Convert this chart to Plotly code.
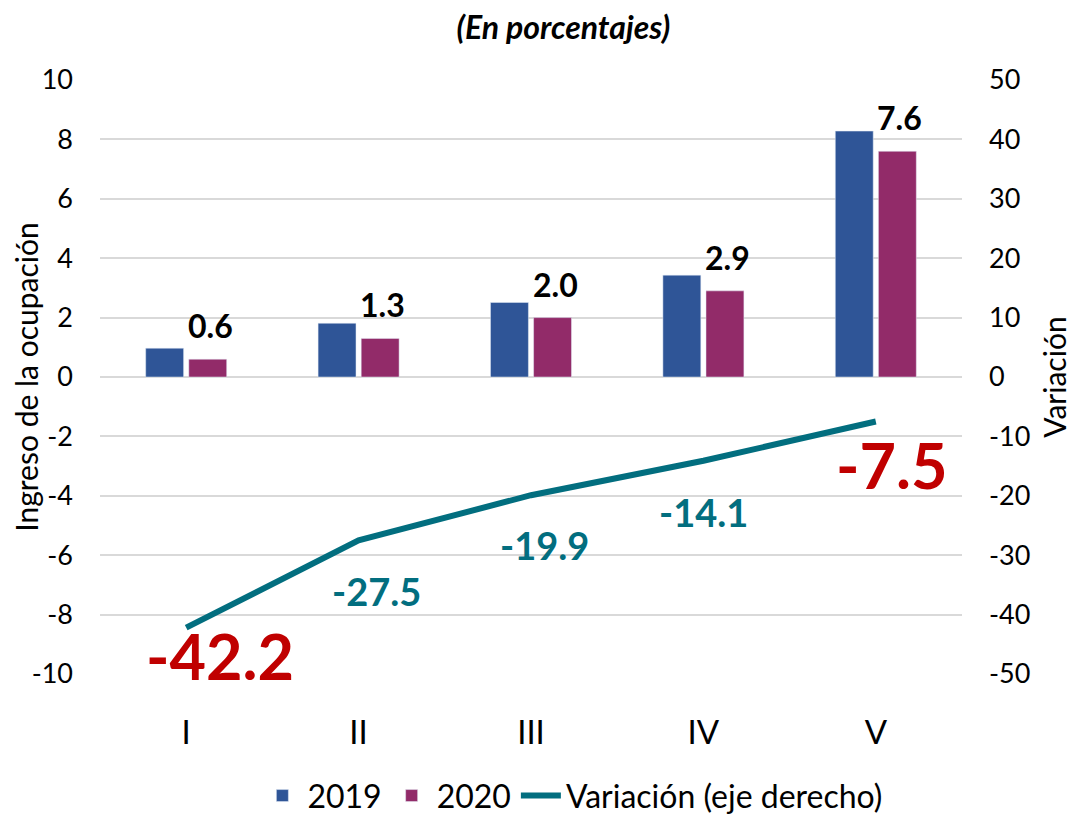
import plotly.graph_objects as go

categories = ["I", "II", "III", "IV", "V"]
ingreso_2019 = [0.97, 1.81, 2.51, 3.43, 8.28]
ingreso_2020 = [0.6, 1.3, 2.0, 2.9, 7.6]
variacion = [-42.2, -27.5, -19.9, -14.1, -7.5]
left_ticks = [10, 8, 6, 4, 2, 0, -2, -4, -6, -8, -10]
right_ticks = [50, 40, 30, 20, 10, 0, -10, -20, -30, -40, -50]

FONT = "Lato"
BLUE = "#2F5597"
PURPLE = "#922B69"
TEAL = "#026E7F"
RED = "#C00000"

fig = go.Figure()
fig.add_trace(go.Bar(x=categories, y=ingreso_2019, name="2019", marker_color=BLUE))
fig.add_trace(go.Bar(x=categories, y=ingreso_2020, name="2020", marker_color=PURPLE))
fig.add_trace(go.Scatter(x=categories, y=variacion, name="Variación (eje derecho)",
                         mode="lines", line=dict(color=TEAL, width=6), yaxis="y2"))

# 2020 bar labels
for i, v in enumerate(ingreso_2020):
    fig.add_annotation(x=i + 0.14, y=v, xref="x", yref="y", text=f"<b>{v:.1f}</b>",
                       showarrow=False, yanchor="bottom", yshift=12,
                       font=dict(family=FONT, size=32, color="black"))

# variation labels
shifts = [(34, -28), (18, -51), (13, -50), (0, -51), (16, -43)]
for i, v in enumerate(variacion):
    big = i in (0, 4)
    fig.add_annotation(x=i, y=v, xref="x", yref="y2", text=f"<b>{v:.1f}</b>",
                       showarrow=False, xshift=shifts[i][0], yshift=shifts[i][1],
                       font=dict(family=FONT, size=63 if big else 38,
                                 color=RED if big else TEAL))

fig.update_layout(
    width=1072, height=807, autosize=False,
    margin=dict(l=92, r=118, t=72, b=141, autoexpand=False),
    paper_bgcolor="white", plot_bgcolor="white",
    barmode="group", bargap=0.5, bargroupgap=0.12,
    font=dict(family=FONT, color="black"),
    title=dict(text="<b><i>(En porcentajes)</i></b>", x=0.518, xanchor="center",
               y=0.975, yanchor="middle", font=dict(family=FONT, size=32, color="black")),
    xaxis=dict(type="category", range=[-0.5, 4.5], showgrid=False, showline=False,
               ticks="", automargin=False,
               tickfont=dict(family=FONT, size=33, color="black"),
               ticklabelstandoff=36),
    yaxis=dict(range=[-10, 10], tickvals=left_ticks, ticktext=[str(t) for t in left_ticks],
               showgrid=True, automargin=False,
               gridcolor="#D9D9D9", gridwidth=2, zeroline=True, zerolinecolor="#D9D9D9",
               zerolinewidth=2, showline=False, ticks="",
               tickfont=dict(family=FONT, size=27, color="black"), ticklabelstandoff=26,
               title=dict(text="Ingreso de la ocupación", standoff=7,
                          font=dict(family=FONT, size=30, color="black"))),
    yaxis2=dict(range=[-50, 50], tickvals=right_ticks, ticktext=[str(t) for t in right_ticks],
                overlaying="y", side="right", automargin=False,
                showgrid=False, zeroline=False, showline=False, ticks="",
                tickfont=dict(family=FONT, size=27, color="black"), ticklabelstandoff=26,
                title=dict(text="Variación", standoff=15,
                           font=dict(family=FONT, size=30, color="black"))),
    legend=dict(orientation="h", x=0.548, xanchor="center", y=-0.205, yanchor="middle",
                font=dict(family=FONT, size=32, color="black"), itemwidth=40,
                tracegroupgap=0, bgcolor="rgba(0,0,0,0)"),
)

fig.write_html("out.html")
